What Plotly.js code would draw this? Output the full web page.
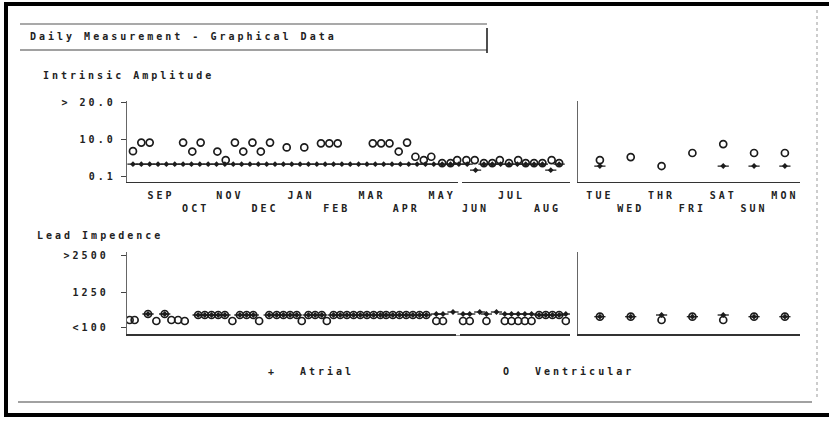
<!DOCTYPE html>
<html><head><meta charset="utf-8">
<script src="https://cdn.plot.ly/plotly-3.0.1.min.js"></script>
<style>
html,body{margin:0;padding:0;background:#fff;}
#chart{width:829px;height:421px;}
text{letter-spacing:3px;}
</style></head>
<body><div id="chart"></div>
<script>
// ---------- data ----------
const monthLabels = ["SEP","<br>OCT","NOV","<br>DEC","JAN","<br>FEB","MAR","<br>APR","MAY","<br>JUN","JUL","<br>AUG"];
const monthWeek = [3.35,7.5,11.6,15.8,20.1,24.4,28.6,32.7,37.0,41.0,45.3,49.6];
const dayLabels = ["TUE","<br>WED","THR","<br>FRI","SAT","<br>SUN","MON"];
const dayIdx = [0,1,2,3,4,5,6];

const ampTicks = [0.1,10,20];
const ampTickText = ["0.1","10.0","&gt; 20.0"];
const impTicks = [100,1250,2500];
const impTickText = ["&lt;100","1250","&gt;2500"];

// Intrinsic amplitude (mV), weekly
const ampWeek = [0,1,2,3,4,5,6,7,8,9,10,11,12,13,14,15,16,17,18,19,20,21,22,23,24,25,
                 26,27,28,29,30,31,32,33,34,35,36,37,38,39,40,41,42,43,44,45,46,47,48,49,50,51];
const ampAtrial = [3.5,3.5,3.5,3.5,3.5,3.5,3.5,3.5,3.5,3.5,3.5,3.5,3.5,3.5,3.5,3.5,3.5,3.5,3.5,3.5,3.5,3.5,3.5,3.5,3.5,3.5,
                   3.5,3.5,3.5,3.5,3.5,3.5,3.5,3.5,3.5,3.5,3.5,3.5,3.5,3.5,3.5,1.9,3.5,3.5,3.5,3.5,3.5,3.5,3.5,3.5,1.9,3.5];
const ampVentWeek = [0,1,2,6,7.1,8.1,10.1,11.1,12.2,13.2,14.3,15.3,16.4,18.4,20.5,22.5,23.5,24.5,
                     28.7,29.7,30.7,31.8,32.8,33.8,34.8,35.7,37,38,38.8,39.9,40.9,42,43,43.9,45,46.1,47,48,49,50.1,51];
const ampVent = [7.0,9.3,9.3,9.3,6.9,9.3,6.9,4.6,9.3,6.9,9.3,6.9,9.3,8.0,8.0,9.1,9.1,9.1,
                 9.1,9.1,9.1,6.9,9.3,5.5,4.6,5.5,3.8,3.8,4.6,4.6,4.6,3.8,3.8,4.6,3.8,4.6,3.8,3.8,3.8,4.6,3.8];
const dayAmpAtrial = [3.0,null,null,null,3.0,3.0,3.0];
const dayAmpVent = [4.6,5.4,3.0,6.5,8.9,6.5,6.5];

// Lead impedance (ohm)
const impWeek = [-0.4,0.2,1.8,2.8,3.8,4.6,5.4,6.2,
                 7.8,8.6,9.4,10.2,11.0,11.9,
                 12.8,13.6,14.4,15.1,
                 16.3,17.2,18.0,18.8,19.6,20.2,
                 21.0,21.8,22.6,23.2,
                 24.0,24.8,25.6,26.4,27.2,28.0,28.8,29.6,30.3,31.1,31.9,32.7,33.5,34.3,35.1,
                 36.3,37.1,38.3,39.5,40.3,41.5,42.3,43.5,
                 44.5,45.3,46.1,46.9,47.7,
                 48.6,49.4,50.2,51.0,
                 51.8];
const impVent = [333,333,533,300,533,333,333,300,
                 500,500,500,500,500,300,
                 500,500,500,300,
                 500,500,500,500,500,300,
                 500,500,500,300,
                 500,500,500,500,500,500,500,500,500,500,500,500,500,500,500,
                 300,300,null,300,300,null,300,null,
                 300,300,300,300,300,
                 500,500,500,500,
                 300];
const impAtrial = [null,null,533,null,533,null,null,null,
                   500,500,500,500,500,null,
                   500,500,500,null,
                   500,500,500,500,500,null,
                   500,500,500,null,
                   500,500,500,500,500,500,500,500,500,500,500,500,500,500,500,
                   533,533,600,533,533,600,533,600,
                   533,533,533,533,533,
                   500,500,500,500,
                   533];
const dayImpAtrial = [444,444,500,444,500,444,444];
const dayImpVent = [444,444,333,444,333,444,444];

// ---------- build ----------
const INK = '#1c1c1c';
function series(x, atrial, vx, vent, xa, ya){
  return [
    {type:'scatter', mode:'markers', x:vx, y:vent, xaxis:xa, yaxis:ya, hoverinfo:'skip',
     marker:{symbol:'circle-open', size:7, color:INK, line:{width:1.7, color:INK}}},
    {type:'scatter', mode:'markers', x:x, y:atrial, xaxis:xa, yaxis:ya, hoverinfo:'skip',
     marker:{symbol:'line-ew', size:8, color:INK, line:{width:1.3, color:INK}}},
    {type:'scatter', mode:'markers', x:x, y:atrial, xaxis:xa, yaxis:ya, hoverinfo:'skip',
     marker:{symbol:'diamond', size:4.5, color:INK, line:{width:0}}}
  ];
}
const data = [].concat(
  series(ampWeek, ampAtrial, ampVentWeek, ampVent, 'x', 'y'),
  series(dayIdx, dayAmpAtrial, dayIdx, dayAmpVent, 'x2', 'y2'),
  series(impWeek, impAtrial, impWeek, impVent, 'x3', 'y3'),
  series(dayIdx, dayImpAtrial, dayIdx, dayImpVent, 'x4', 'y4')
);

const W = 829, H = 421;
const px = v => v / W, py = v => 1 - v / H;
const monthDom = [px(126.7), px(570)], dayDom = [px(578), px(800)];
const topDom = [py(181.7), py(101)], botDom = [py(334), py(252)];
const FONT = {family:'"DejaVu Sans Mono", monospace', size:10, color:'#222', weight:'bold'};

function xa(dom, range, anchor, vals, text){
  const o = {domain:dom, range:range, anchor:anchor, showgrid:false, zeroline:false,
    showline:true, linecolor:'#333', linewidth:1.5, ticks:'', fixedrange:true};
  if (vals){ o.tickvals = vals; o.ticktext = text; o.ticklabelstandoff = 4; o.tickfont = FONT; }
  else o.showticklabels = false;
  return o;
}
function ya(dom, range, anchor, vals, text, standoff){
  const o = {domain:dom, range:range, anchor:anchor, showgrid:false, zeroline:false,
    showline:true, linecolor:'#666', linewidth:1, fixedrange:true};
  if (vals){ o.tickvals = vals; o.ticktext = text; o.ticks = 'outside'; o.ticklen = 5;
    o.tickcolor = '#444'; o.tickwidth = 1; o.ticklabelstandoff = standoff; o.tickfont = FONT; }
  else { o.showticklabels = false; o.ticks = ''; }
  return o;
}

function hline(x0, x1, y, color, w, dash){
  return {type:'line', xref:'paper', yref:'paper', x0:px(x0), x1:px(x1), y0:py(y), y1:py(y),
          line:{color:color, width:w, dash:dash || 'solid'}};
}
function vline(x, y0, y1, color, w, dash){
  return {type:'line', xref:'paper', yref:'paper', x0:px(x), x1:px(x), y0:py(y0), y1:py(y1),
          line:{color:color, width:w, dash:dash || 'solid'}};
}
function label(text, x, y, anchor){
  return {text:text, xref:'paper', yref:'paper', x:px(x), y:py(y), xanchor:anchor || 'left',
          yanchor:'middle', showarrow:false, font:FONT};
}

const layout = {
  width:W, height:H, margin:{l:0, r:0, t:0, b:0}, showlegend:false,
  paper_bgcolor:'#ffffff', plot_bgcolor:'rgba(0,0,0,0)', font:FONT,
  xaxis: xa(monthDom, [-0.75, 52.3], 'y', monthWeek, monthLabels),
  yaxis: ya(topDom, [-1.21, 20.48], 'x', ampTicks, ampTickText, 3),
  xaxis2: xa(dayDom, [-0.71, 6.49], 'y2', dayIdx, dayLabels),
  yaxis2: ya(topDom, [-1.21, 20.48], 'x2'),
  xaxis3: xa(monthDom, [-0.75, 52.3], 'y3'),
  yaxis3: ya(botDom, [-133, 2600], 'x3', impTicks, impTickText, 10),
  xaxis4: xa(dayDom, [-0.71, 6.49], 'y4'),
  yaxis4: ya(botDom, [-133, 2600], 'x4'),
  shapes: [
    hline(5, 829, 4, '#000', 4), vline(6, 2, 417, '#000', 4), hline(5, 829, 415, '#000', 4),
    hline(20, 487, 24, '#555', 1.2), hline(20, 487, 50, '#444', 1.2), vline(487, 28, 53, '#222', 1.6),
    hline(18, 812, 402, '#444', 1.2),
    vline(817, 10, 398, '#999', 1, 'dot'),
    hline(458, 462, 181.7, '#fff', 3), hline(456, 460, 334, '#fff', 3)
  ],
  annotations: [
    label('Daily Measurement - Graphical Data', 28, 37),
    label('Intrinsic Amplitude', 41, 75),
    label('Lead Impedence', 35, 235),
    label('+', 272, 371, 'center'),
    label('Atrial', 298, 371),
    label('O', 507, 371, 'center'),
    label('Ventricular', 533, 371)
  ]
};

Plotly.newPlot('chart', data, layout, {staticPlot:true, displayModeBar:false});
</script>
</body></html>
